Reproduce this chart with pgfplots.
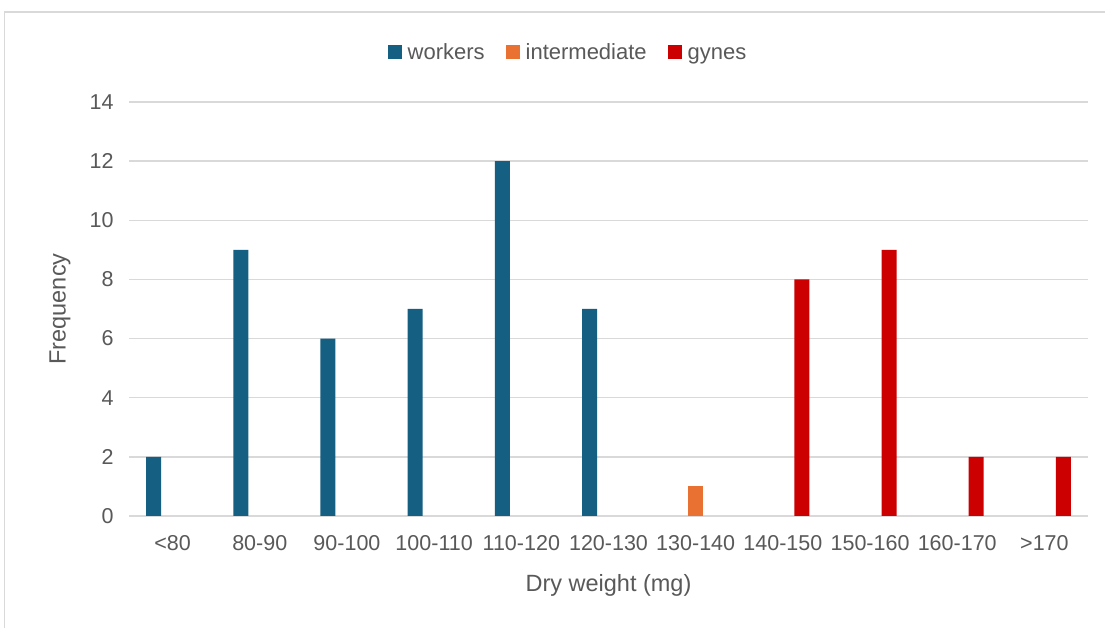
\documentclass[border=0pt]{standalone}
\usepackage{pgfplots}
\pgfplotsset{compat=1.18}
\usepackage{fontspec}
\setmainfont{Liberation Sans}
\definecolor{workers}{HTML}{156082}
\definecolor{inter}{HTML}{E97132}
\definecolor{gynes}{HTML}{CC0000}
\definecolor{txt}{HTML}{595959}
\definecolor{grd}{HTML}{D9D9D9}
\begin{document}
\begin{tikzpicture}
\useasboundingbox (0,0) rectangle (1105pt,628pt);
\fill[white] (0,0) rectangle (1105pt,628pt);
\draw[grd, line width=1.5pt] (4.5pt,0) -- (4.5pt,616pt) -- (1105pt,616pt);
\begin{axis}[
  at={(129pt,112pt)}, anchor=south west,
  scale only axis, width=959pt, height=414pt,
  xmin=-0.5, xmax=10.5, ymin=0, ymax=14,
  xtick={0,...,10},
  xticklabels={{<80},{80-90},{90-100},{100-110},{110-120},{120-130},{130-140},{140-150},{150-160},{160-170},{>170}},
  ytick={0,2,...,14},
  ymajorgrids, grid style={grd, line width=1.3pt},
  axis line style={draw=none},
  tick style={draw=none},
  major tick length=0pt,
  /pgf/number format/assume math mode=true,
  ticklabel style={font=\fontsize{21.5}{25}\selectfont, text=txt},
  xticklabel style={anchor=north, yshift=-16pt},
  yticklabel style={anchor=east, xshift=-12pt},
  xlabel={Dry weight (mg)},
  ylabel={Frequency},
  label style={font=\fontsize{23.5}{27}\selectfont, text=txt},
  xlabel style={at={(axis description cs:0.5,-0.1667)}, anchor=center},
  ylabel style={at={(axis description cs:-0.072,0.5)}, anchor=center},
  ybar, bar width=15pt,
  legend columns=3,
  legend style={at={(0.4578,1.115)}, anchor=center, draw=none, fill=none,
    font=\fontsize{22}{26}\selectfont, text=txt,
    nodes={inner sep=2pt, text depth=0.25em, text height=0.75em},
    /tikz/every odd column/.append style={column sep=4pt},
    /tikz/every even column/.append style={column sep=19pt},
    inner sep=0pt},
  legend image code/.code={\fill[#1] (0pt,-2.5pt) rectangle (14pt,11.5pt);},
]
\addplot[fill=workers, draw=none, bar shift=-19pt] coordinates {(0,2) (1,9) (2,6) (3,7) (4,12) (5,7)};
\addplot[fill=inter, draw=none, bar shift=0pt] coordinates {(6,1)};
\addplot[fill=gynes, draw=none, bar shift=19pt] coordinates {(7,8) (8,9) (9,2) (10,2)};
\legend{workers, intermediate, gynes}
\end{axis}
\end{tikzpicture}
\end{document}
